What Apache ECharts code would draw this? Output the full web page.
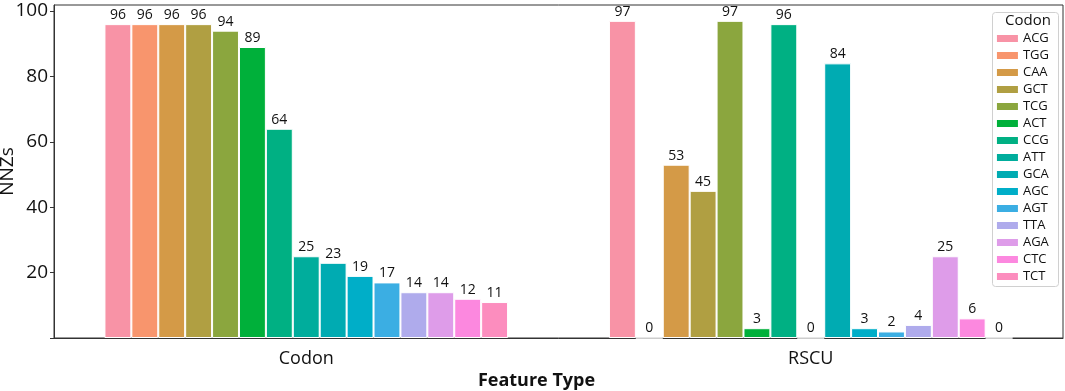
<!DOCTYPE html>
<html>
<head>
<meta charset="utf-8">
<script src="https://cdn.jsdelivr.net/npm/echarts@6/dist/echarts.min.js"></script>
<style>
html,body{margin:0;padding:0;background:#fff;}
#chart{width:1065px;height:391px;}
</style>
</head>
<body>
<div id="chart"></div>
<script>
var featureTypes = ['Codon', 'RSCU'];
var codons = ['ACG','TGG','CAA','GCT','TCG','ACT','CCG','ATT','GCA','AGC','AGT','TTA','AGA','CTC','TCT'];
var codonValues = [96,96,96,96,94,89,64,25,23,19,17,14,14,12,11];
var rscuValues  = [97,0,53,45,97,3,96,0,84,3,2,4,25,6,0];
var colors = ['#F893A6','#F8956D','#D49A47','#B09F42','#8BA63E','#00B03A','#00B083','#00AD9C','#00ABB2','#00AEC8','#3BAEE3','#AFABEC','#DE9CE9','#FC88DF','#FC8DBE'];
var yTicks = [20,40,60,80,100];

var FONT = '"Open Sans", "DejaVu Sans", sans-serif';
var chart = echarts.init(document.getElementById('chart'), null, {renderer:'canvas'});

var series = codons.map(function(c, i){
  return {
    name: c,
    type: 'bar',
    data: [codonValues[i], rscuValues[i]],
    barGap: '0%',
    barCategoryGap: '20%',
    itemStyle: {color: colors[i], borderColor: '#ffffff', borderWidth: 1},
    label: {show: true, position: 'top', distance: 2, color: '#111', fontSize: 14, fontFamily: FONT},
    emphasis: {disabled: true}
  };
});

chart.setOption({
  animation: false,
  color: colors,
  grid: {left: 54, right: 2, top: 5, bottom: 53, show: true, borderColor: '#333', borderWidth: 1, backgroundColor: 'transparent', containLabel: false, outerBoundsMode: 'none'},
  xAxis: {
    type: 'category',
    data: featureTypes,
    name: 'Feature Type',
    nameLocation: 'middle',
    nameGap: 34,
    nameMoveOverlap: false,
    nameTextStyle: {fontSize: 18, fontWeight: 'bold', color: '#111', fontFamily: FONT, padding: [0, 44, 0, 0]},
    axisLine: {lineStyle: {color: '#333', width: 1}},
    axisTick: {alignWithLabel: true, length: 4, lineStyle: {color: '#333'}},
    axisLabel: {fontSize: 18, color: '#111', margin: 12, fontFamily: FONT},
    splitLine: {show: false}
  },
  yAxis: {
    type: 'value',
    min: 0,
    max: 101.85,
    interval: 20,
    name: 'NNZs',
    nameLocation: 'middle',
    nameGap: 37,
    nameMoveOverlap: false,
    nameTextStyle: {fontSize: 19, color: '#111', fontFamily: FONT},
    axisLine: {show: true, lineStyle: {color: '#333', width: 1}},
    axisTick: {show: true, length: 4, lineStyle: {color: '#333'}},
    axisLabel: {
      fontSize: 19, color: '#111', margin: 6, fontFamily: FONT,
      showMaxLabel: false,
      formatter: function(v){ return yTicks.indexOf(v) >= 0 ? String(v) : ''; }
    },
    splitLine: {show: false}
  },
  legend: {
    orient: 'vertical',
    right: 11,
    top: 27,
    data: codons,
    icon: 'rect',
    itemWidth: 23,
    itemHeight: 9,
    itemGap: 4,
    textStyle: {fontSize: 13, color: '#111', fontFamily: FONT, padding: [0,0,0,-1]},
    selectedMode: false
  },
  graphic: [
    {type: 'rect', left: 992, top: 12, shape: {width: 66, height: 274, r: 3}, style: {fill: 'rgba(255,255,255,0.85)', stroke: '#d0d0d0', lineWidth: 1}, z: -1},
    {type: 'text', left: 1005, top: 13, style: {text: 'Codon', fontSize: 15, fill: '#111', fontFamily: FONT}}
  ],
  series: series
});
</script>
</body>
</html>
